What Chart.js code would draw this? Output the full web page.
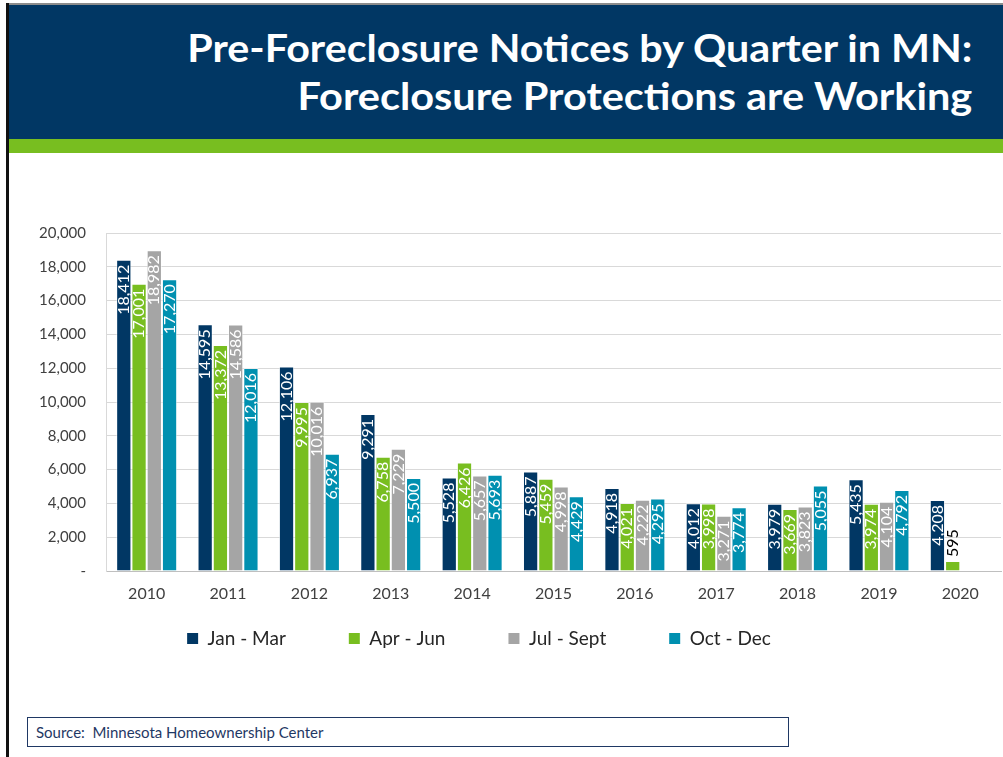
<!DOCTYPE html>
<html><head><meta charset="utf-8">
<script src="https://cdn.jsdelivr.net/npm/chart.js@4.4.1/dist/chart.umd.min.js"></script>
<style>
html,body{margin:0;padding:0;background:#fff;width:1003px;height:757px;overflow:hidden;position:relative;font-family:Lato,sans-serif}
#topline{position:absolute;left:6px;top:3px;width:997px;height:2px;background:#8c8c8c}
#lborder{position:absolute;left:6px;top:3px;width:3px;height:754px;background:#111}
#header{position:absolute;left:9px;top:5px;width:994px;height:134px;background:#013764}
#band{position:absolute;left:9px;top:139px;width:994px;height:14px;background:#78BE20}
.tl{position:absolute;right:31px;color:#fff;font:bold 38px Lato;line-height:48px;white-space:nowrap;transform-origin:right center}
#chartwrap{position:absolute;left:9px;top:153px;width:994px;height:503px}
#source{position:absolute;left:27px;top:717px;width:762px;height:30px;border:1px solid #1f3864;box-sizing:border-box;font:15px Lato;color:#1f3864;padding-left:8px;line-height:28px;white-space:pre}
</style></head>
<body>
<div id="topline"></div>
<div id="header"></div>
<div id="band"></div>
<div id="lborder"></div>
<div class="tl" id="t1" style="top:23px">Pre-Foreclosure Notices by Quarter in MN:</div>
<div class="tl" id="t2" style="top:71px">Foreclosure Protections are Working</div>
<div id="chartwrap"><canvas id="c"></canvas></div>
<div id="source">Source:  Minnesota Homeownership Center</div>
<script>
const categories = ['2010','2011','2012','2013','2014','2015','2016','2017','2018','2019','2020'];
const seriesNames = ['Jan - Mar','Apr - Jun','Jul - Sept','Oct - Dec'];
const janMar  = [18412,14595,12106,9291,5528,5887,4918,4012,3979,5435,4208];
const aprJun  = [17001,13372,9995,6758,6426,5459,4021,3998,3669,3974,595];
const julSept = [18982,14586,10016,7229,5657,4998,4222,3271,3823,4104,null];
const octDec  = [17270,12016,6937,5500,5693,4429,4295,3774,5055,4792,null];
const seriesColors = ['#013764','#78BE20','#A5A5A5','#0090B0'];
const yMin = 0, yMax = 20000, yStep = 2000;

// fit title widths
(function(){
  const m = document.createElement('canvas').getContext('2d');
  m.font = 'bold 38px Lato';
  [['t1',787],['t2',675]].forEach(([id,target])=>{
    const el=document.getElementById(id);
    const w=m.measureText(el.textContent).width;
    el.style.transform='scaleX('+(target/w)+')';
  });
})();

const barLabels = {
  id:'barLabels',
  afterDatasetsDraw(chart){
    const ctx=chart.ctx;
    ctx.save();
    ctx.font='16px Lato';
    chart.data.datasets.forEach((ds,di)=>{
      const meta=chart.getDatasetMeta(di);
      meta.data.forEach((bar,i)=>{
        const v=ds.data[i]; if(v==null) return;
        const txt=v.toLocaleString('en-US');
        const w=ctx.measureText(txt).width;
        const h=bar.base-bar.y;
        ctx.save();
        if(h>w+8){ctx.translate(bar.x,bar.y+5);ctx.rotate(-Math.PI/2);ctx.textAlign='right';ctx.fillStyle='#ffffff';}
        else {ctx.translate(bar.x,bar.y-4);ctx.rotate(-Math.PI/2);ctx.textAlign='left';ctx.fillStyle='#000000';}
        ctx.textBaseline='middle';
        ctx.fillText(txt,0,0);
        ctx.restore();
      });
    });
    ctx.restore();
  }
};

const LEG_PAD = 63;
const legendShift = {
  id:'legendShift',
  afterLayout(chart){
    const L=chart.legend; if(!L) return;
    const newTop = 484 - LEG_PAD - 8;
    L.top = newTop; L.bottom = newTop + 160;
    const dx = -26;
    L.left+=dx; L.right+=dx;
  }
};

const seriesData=[janMar,aprJun,julSept,octDec];
new Chart(document.getElementById('c'),{
  type:'bar',
  data:{
    labels:categories,
    datasets:seriesNames.map((n,i)=>({
      label:n,data:seriesData[i],backgroundColor:seriesColors[i],
      borderColor:'rgba(255,255,255,0.55)',borderWidth:1,
      categoryPercentage:0.75,barPercentage:1.0
    }))
  },
  options:{
    responsive:true,maintainAspectRatio:false,animation:false,
    layout:{padding:{top:80,right:2,left:0,bottom:0}},
    plugins:{
      tooltip:{enabled:false},
      legend:{
        position:'bottom',maxHeight:50,
        labels:{
          boxWidth:11,boxHeight:11,padding:LEG_PAD,color:'#262626',
          font:{family:'Lato',size:19},
          generateLabels(chart){
            return Chart.defaults.plugins.legend.labels.generateLabels(chart).map(l=>Object.assign(l,{lineWidth:0}));
          }
        }
      }
    },
    scales:{
      x:{
        grid:{display:false},
        border:{display:true,color:'#bfbfbf'},
        ticks:{color:'#404040',font:{family:'Lato',size:16},padding:5},
        afterFit(s){s.height=35;}
      },
      y:{
        min:yMin,max:yMax,
        grid:{color:'#d9d9d9',drawTicks:false},
        border:{display:true,color:'#d9d9d9'},
        ticks:{stepSize:yStep,color:'#404040',font:{family:'Lato',size:15},padding:20,
          callback:v=> v===0?'-':v.toLocaleString('en-US')},
        afterFit(s){s.width=97;}
      }
    }
  },
  plugins:[barLabels,legendShift]
});
</script>
</body></html>
